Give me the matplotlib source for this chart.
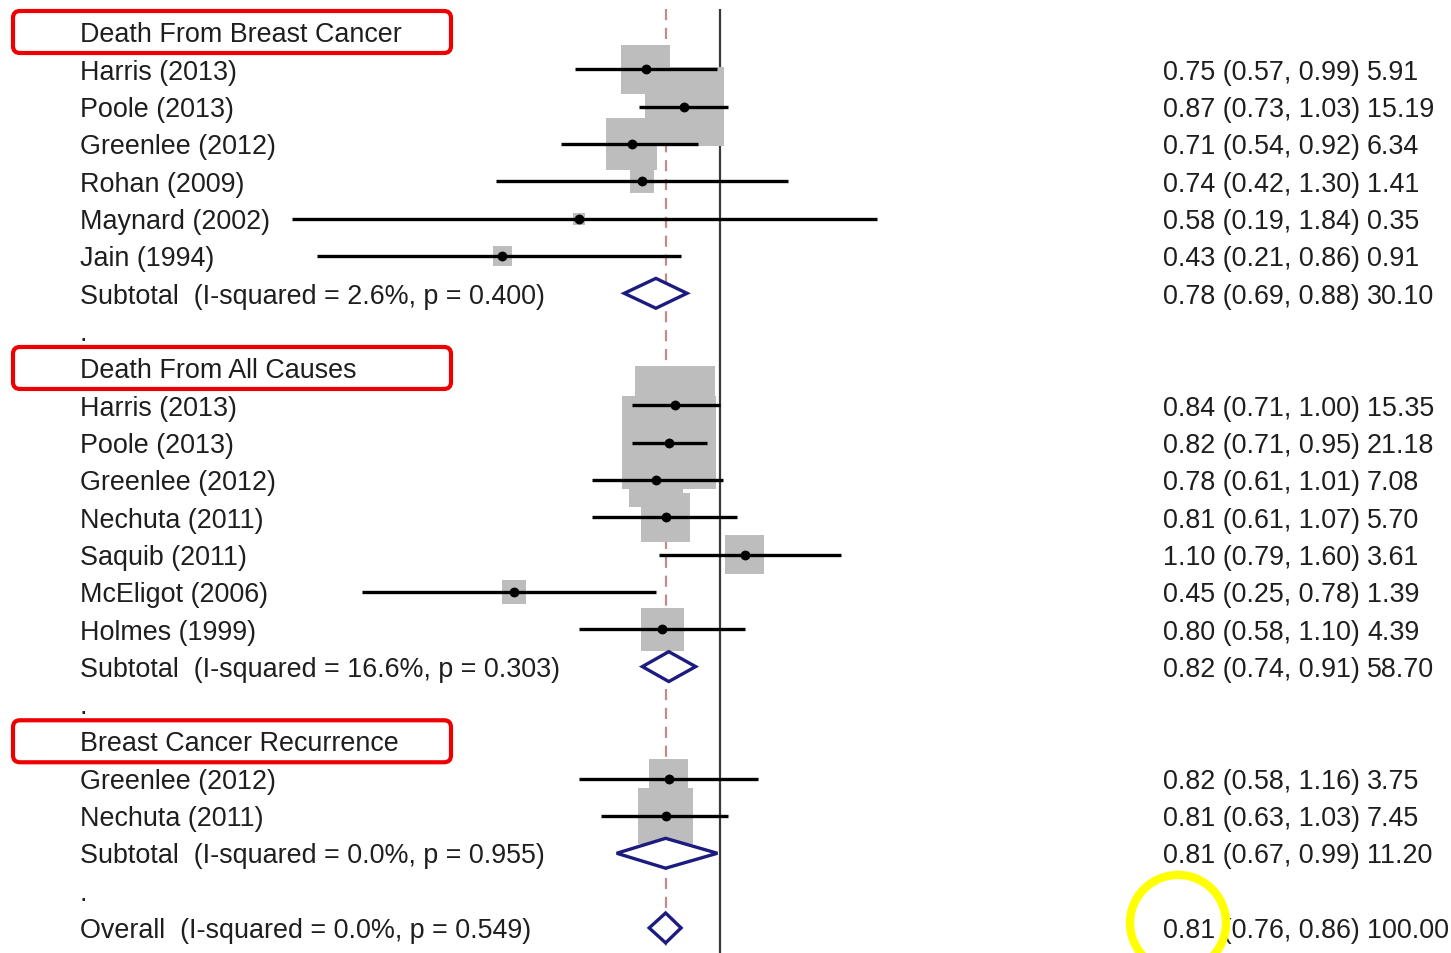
import numpy as np
import matplotlib
matplotlib.use("Agg")
import matplotlib.pyplot as plt
from matplotlib.patches import FancyBboxPatch, Circle, Polygon
from matplotlib.transforms import blended_transform_factory, offset_copy

plt.rcParams['font.family'] = ['Liberation Sans', 'DejaVu Sans']

# ---------------- data ----------------
headers = ["Death From Breast Cancer", "Death From All Causes", "Breast Cancer Recurrence"]
header_rows = [0, 9, 19]

study_labels = ["Harris (2013)", "Poole (2013)", "Greenlee (2012)", "Rohan (2009)",
                "Maynard (2002)", "Jain (1994)",
                "Harris (2013)", "Poole (2013)", "Greenlee (2012)", "Nechuta (2011)",
                "Saquib (2011)", "McEligot (2006)", "Holmes (1999)",
                "Greenlee (2012)", "Nechuta (2011)"]
study_rows = [1, 2, 3, 4, 5, 6, 10, 11, 12, 13, 14, 15, 16, 20, 21]
study_es = [0.75, 0.87, 0.71, 0.74, 0.58, 0.43, 0.84, 0.82, 0.78, 0.81, 1.10, 0.45, 0.80, 0.82, 0.81]
study_lo = [0.57, 0.73, 0.54, 0.42, 0.19, 0.21, 0.71, 0.71, 0.61, 0.61, 0.79, 0.25, 0.58, 0.58, 0.63]
study_hi = [0.99, 1.03, 0.92, 1.30, 1.84, 0.86, 1.00, 0.95, 1.01, 1.07, 1.60, 0.78, 1.10, 1.16, 1.03]
study_wt = [5.91, 15.19, 6.34, 1.41, 0.35, 0.91, 15.35, 21.18, 7.08, 5.70, 3.61, 1.39, 4.39, 3.75, 7.45]

pooled_labels = ["Subtotal  (I-squared = 2.6%, p = 0.400)",
                 "Subtotal  (I-squared = 16.6%, p = 0.303)",
                 "Subtotal  (I-squared = 0.0%, p = 0.955)",
                 "Overall  (I-squared = 0.0%, p = 0.549)"]
pooled_rows = [7, 17, 22, 24]
pooled_es = [0.78, 0.82, 0.81, 0.81]
pooled_lo = [0.69, 0.74, 0.67, 0.76]
pooled_hi = [0.88, 0.91, 0.99, 0.86]
pooled_wt = [30.10, 58.70, 11.20, 100.00]

dot_rows = [8, 18, 23]
overall_es = 0.81

# ---------------- figure ----------------
W, H = 1451, 954
DPI = 100
fig = plt.figure(figsize=(W / DPI, H / DPI), dpi=DPI)
ax = fig.add_axes([0, 0, 1, 1])
ax.set_xscale('log')
px_per_ln = 258.0
x_null_px = 720.0
ax.set_xlim(np.exp(-x_null_px / px_per_ln), np.exp((W - x_null_px) / px_per_ln))
row_h = 37.33
top_px = 33.0
ax.set_ylim((H - top_px) / row_h, -top_px / row_h)
ax.axis('off')

ytop = -23.0 / row_h  # line start (px 10)
ax.plot([1, 1], [ytop, (H - top_px) / row_h], color='#3a3a3a', lw=1.6, zorder=1,
        solid_capstyle='butt')
ax.plot([overall_es, overall_es], [ytop, 24.5], color='#c48a8a', lw=1.6,
        dashes=(5, 3.5), zorder=1)

# boxes
k_px = 20.3
sizes = [(k_px * np.sqrt(w) * 0.72) ** 2 for w in study_wt]
ax.scatter(study_es, study_rows, s=sizes, marker='s', color='#bdbdbd', linewidths=0, zorder=2)
# CIs
ax.hlines(study_rows, study_lo, study_hi, color='black', lw=2.4, zorder=3)
ax.scatter(study_es, study_rows, s=50, color='black', zorder=4, linewidths=0)

# diamonds
for r, e, lo, hi in zip(pooled_rows, pooled_es, pooled_lo, pooled_hi):
    hh = 0.4
    poly = Polygon([[lo, r], [e, r - hh], [hi, r], [e, r + hh]], closed=True,
                   facecolor='white', edgecolor='#1c1c80', lw=2.4, zorder=5,
                   joinstyle='miter')
    ax.add_patch(poly)

# texts
tcol = '#1e1e1e'
fs = 19.4
trans = offset_copy(blended_transform_factory(ax.transAxes, ax.transData),
                    fig=fig, x=0, y=-1.6, units='points')
x_lab = 80 / W
x_es = 1163 / W
x_wt = 1367 / W
kw = dict(transform=trans, fontsize=fs, color=tcol, va='center')
for t, r in zip(headers, header_rows):
    ax.text(x_lab, r, t, **kw)
for t, r in zip(study_labels, study_rows):
    ax.text(x_lab, r, t, **kw)
for t, r in zip(pooled_labels, pooled_rows):
    ax.text(x_lab, r, t, **kw)
for r in dot_rows:
    ax.text(x_lab, r, ".", **kw)
for r, e, lo, hi, w in list(zip(study_rows, study_es, study_lo, study_hi, study_wt)) + \
        list(zip(pooled_rows, pooled_es, pooled_lo, pooled_hi, pooled_wt)):
    ax.text(x_es, r, f"{e:.2f} ({lo:.2f}, {hi:.2f})", **kw)
    ax.text(x_wt, r, f"{w:.2f}", **kw)

# red highlight boxes around headers (display pixel coords derived from rows)
fig.canvas.draw()
for r in header_rows:
    _, yc = ax.transData.transform((1, r))
    x0, x1 = 13, 451
    y0, y1 = yc - 21, yc + 21
    box = FancyBboxPatch((x0, y0), x1 - x0, y1 - y0,
                         boxstyle="round,pad=0,rounding_size=7",
                         transform=None, fill=False, edgecolor='#ee0000', lw=3.0,
                         zorder=10)
    fig.patches.append(box)

# yellow circle around overall estimate
_, yo = ax.transData.transform((1, pooled_rows[-1]))
circ = Circle((1178, yo + 5), 48, transform=None, fill=False, edgecolor='#ffff00',
              lw=6.0, zorder=10)
fig.patches.append(circ)

fig.savefig("out.png", dpi=DPI)
